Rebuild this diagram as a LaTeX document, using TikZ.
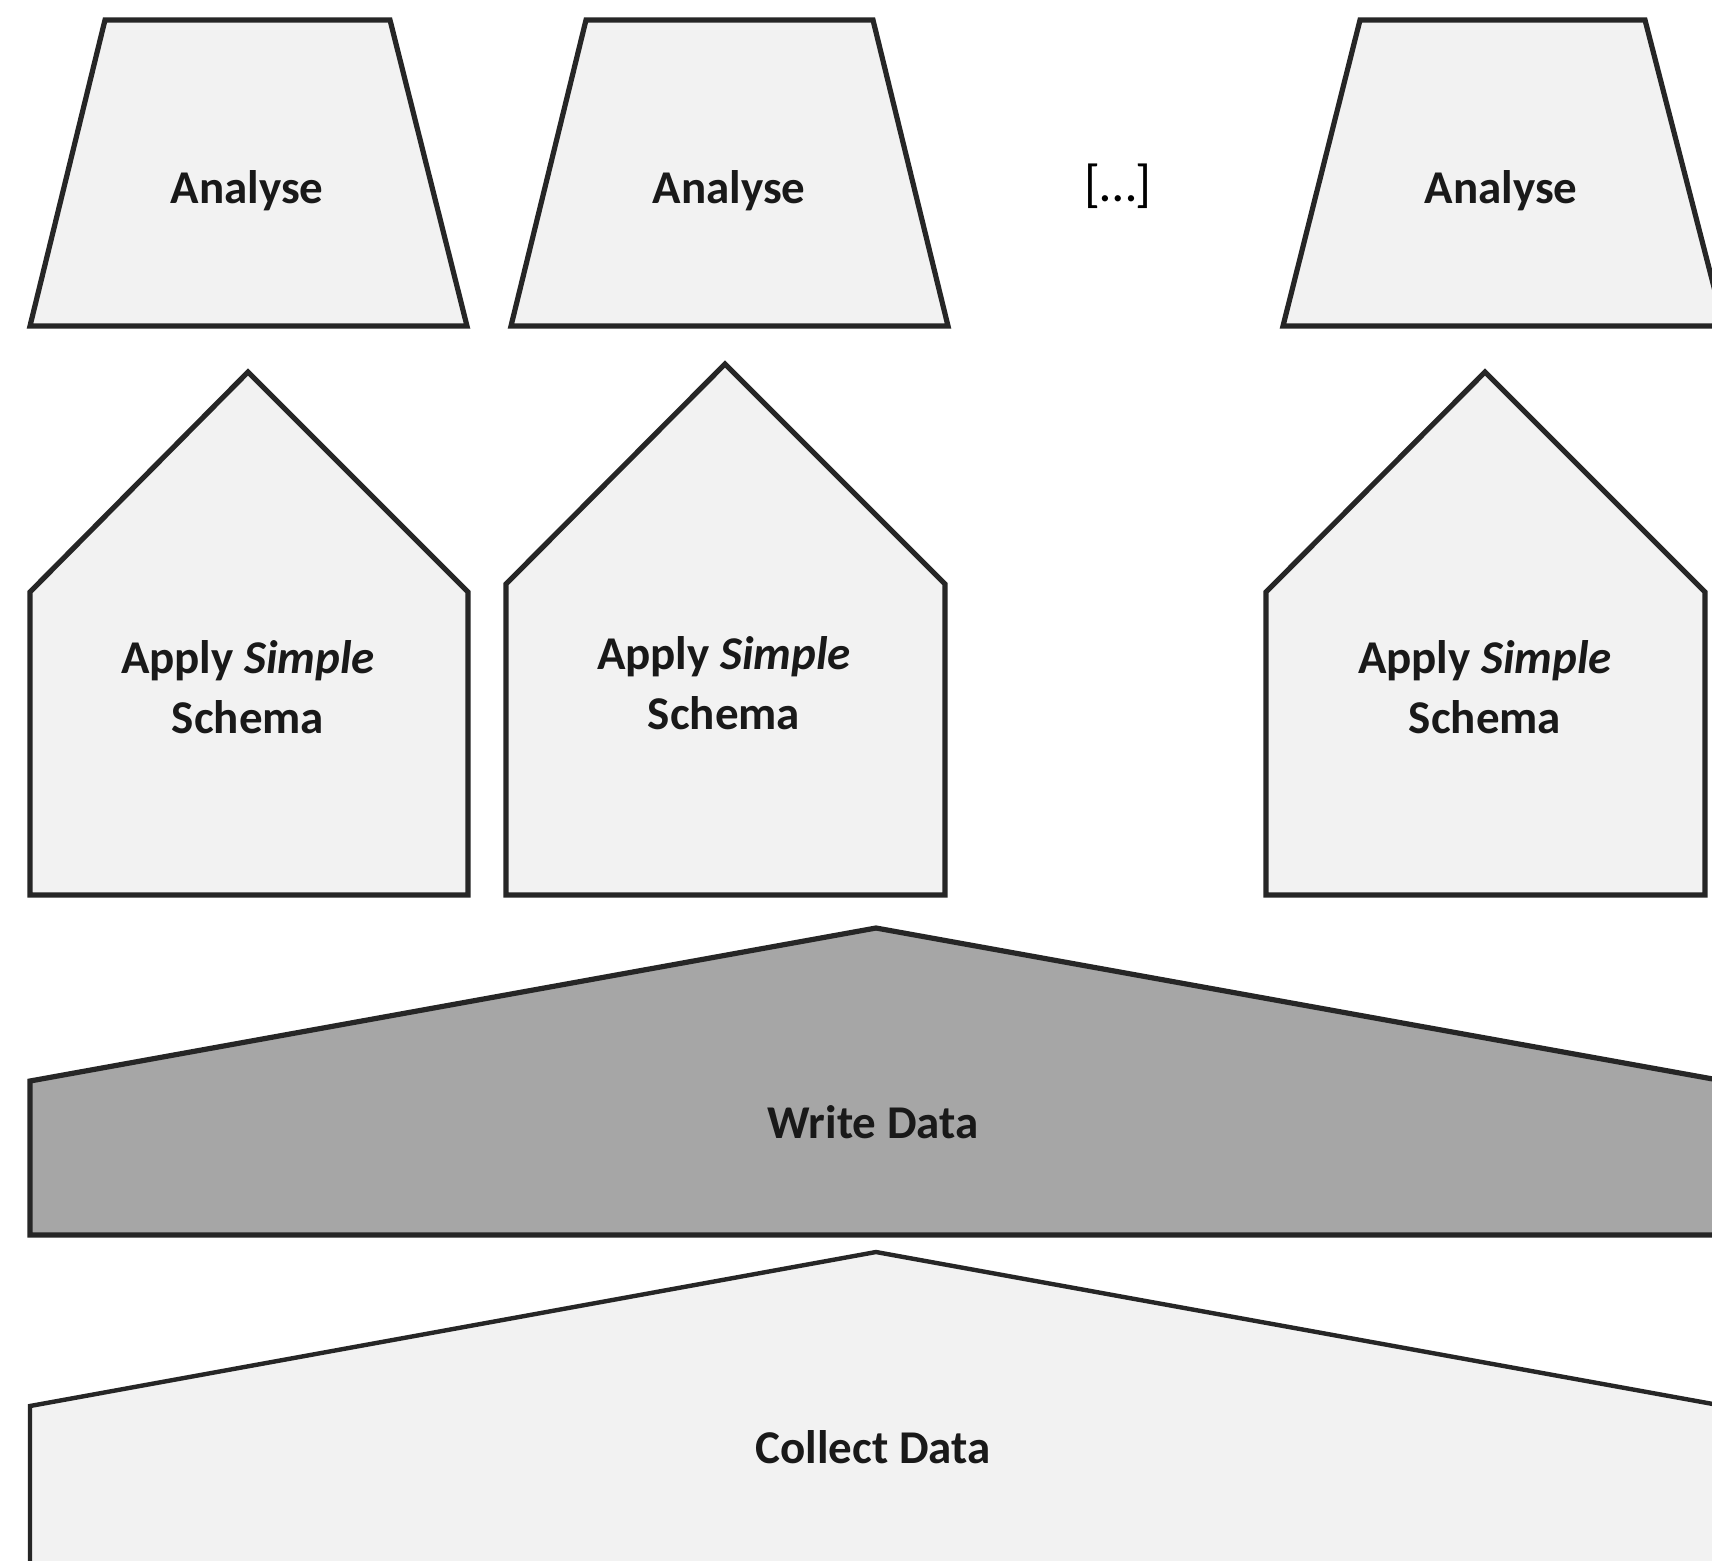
\documentclass[tikz,border=0pt]{standalone}
\usepackage{fontspec}
\setmainfont{Carlito}
\definecolor{paper}{HTML}{F2F2F2}
\definecolor{band}{HTML}{A6A6A6}
\definecolor{edge}{HTML}{262626}
\begin{document}
\begin{tikzpicture}[x=0.5pt,y=-0.5pt,
  block/.style={draw=edge,fill=paper,line width=2.6pt,line join=miter},
  darkblock/.style={block,fill=band},
  label/.style={font=\fontsize{23.5}{30}\selectfont\bfseries,align=center,inner sep=0pt,text=black!90}]
\fill[white] (0,0) rectangle (1712,1560);
\useasboundingbox (0,0) rectangle (1712,1560);
\clip (0,0) rectangle (1712,1560);

% analysis trapezoids
\draw[block] (105,20) -- (390,20) -- (467,326) -- (30,326) -- cycle;
\draw[block] (586,20) -- (873,20) -- (948,326) -- (511,326) -- cycle;
\draw[block] (1360,20) -- (1645,20) -- (1724,326) -- (1283,326) -- cycle;
\node[label] (an1) at (247,191) {Analyse};
\node[label] (an2) at (729,191) {Analyse};
\node[label] (an3) at (1501,191) {Analyse};
\node[font=\fontsize{26}{30}\selectfont,inner sep=0pt] (more) at (1118,186) {[\ldots]};

% schema houses
\draw[block] (248,372) -- (468,592) -- (468,895) -- (30,895) -- (30,592) -- cycle;
\draw[block] (725,364) -- (945,584) -- (945,895) -- (506,895) -- (506,584) -- cycle;
\draw[block] (1485,372) -- (1705,592) -- (1705,895) -- (1266,895) -- (1266,592) -- cycle;
\node[label] (sc1) at (248,687) {Apply \textit{Simple}\\Schema};
\node[label] (sc2) at (724,683) {Apply \textit{Simple}\\Schema};
\node[label] (sc3) at (1485,687) {Apply \textit{Simple}\\Schema};

% write layer
\draw[darkblock] (876,928) -- (1724,1081) -- (1724,1235) -- (30,1235) -- (30,1081) -- cycle;
\node[label] (write) at (873,1122) {Write Data};

% collect layer
\draw[block,line width=2.2pt] (876,1252) -- (1724,1406) -- (1724,1620) -- (30,1620) -- (30,1406) -- cycle;
\node[label] (collect) at (873,1447) {Collect Data};
\end{tikzpicture}
\end{document}
